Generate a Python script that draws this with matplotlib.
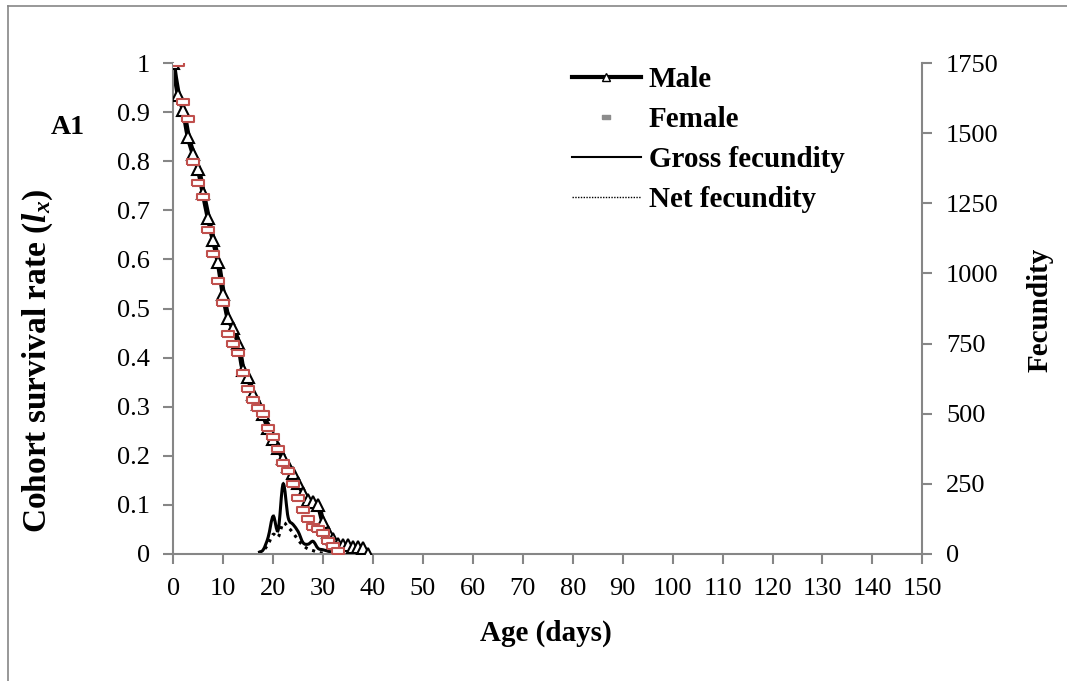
import numpy as np
import matplotlib
matplotlib.use('Agg')
import matplotlib.pyplot as plt
from matplotlib.path import Path
from matplotlib.patches import PathPatch
from matplotlib.lines import Line2D
from matplotlib import rcParams

rcParams['font.family'] = 'Liberation Serif'
rcParams['font.size'] = 19
rcParams['mathtext.fontset'] = 'custom'
rcParams['mathtext.rm'] = 'Liberation Serif'
rcParams['mathtext.it'] = 'Liberation Serif:italic'
rcParams['mathtext.bf'] = 'Liberation Serif:bold'
rcParams['mathtext.bfit'] = 'Liberation Serif:italic:bold'

# survival (lx) by age in days
male_days = list(range(0, 40))
male_lx = [1.0, 0.935, 0.905, 0.85, 0.815, 0.785, 0.735, 0.685, 0.64, 0.595,
           0.53, 0.48, 0.46, 0.43, 0.375, 0.36, 0.325, 0.305, 0.285, 0.256,
           0.235, 0.215, 0.195, 0.18, 0.165, 0.145, 0.125, 0.11, 0.105, 0.1,
           0.065, 0.045, 0.03, 0.02, 0.018, 0.018, 0.015, 0.015, 0.012, 0.0]

female_days = list(range(1, 34))
female_lx = [1.0, 0.921, 0.886, 0.799, 0.755, 0.727, 0.659, 0.612, 0.555, 0.512,
             0.448, 0.428, 0.409, 0.369, 0.337, 0.314, 0.298, 0.285, 0.257, 0.239,
             0.213, 0.186, 0.170, 0.142, 0.114, 0.090, 0.071, 0.054, 0.051, 0.043,
             0.026, 0.017, 0.007]

# fecundity (eggs) by age in days
gross_days = list(range(17, 34))
gross_fec = [5, 15, 60, 135, 85, 250, 130, 105, 80, 40, 35, 45, 20, 15, 10, 5, 0]

net_days = list(range(17, 32))
net_fec = [5, 12, 35, 70, 60, 110, 95, 75, 50, 30, 18, 12, 6, 3, 0]


def smooth_path(x, y):
    # cardinal spline through the points, like a spreadsheet "smoothed line"
    pts = np.column_stack([x, y]).astype(float)
    verts = [pts[0]]
    codes = [Path.MOVETO]
    n = len(pts)
    for i in range(n - 1):
        p0 = pts[max(i - 1, 0)]
        p1 = pts[i]
        p2 = pts[i + 1]
        p3 = pts[min(i + 2, n - 1)]
        verts += [p1 + (p2 - p0) / 6, p2 - (p3 - p1) / 6, p2]
        codes += [Path.CURVE4] * 3
    return Path(verts, codes)


W, H = 1067, 681
grey = '#868686'
red = '#c0504d'
rect = [(-2, -1), (2, -1), (2, 1), (-2, 1), (-2, -1)]

fig = plt.figure(figsize=(W / 100, H / 100), dpi=100)
ax = fig.add_axes([173.3 / W, 1 - 554 / H, 749 / W, 491 / H])
ax2 = ax.twinx()

ax.add_patch(PathPatch(smooth_path(male_days, male_lx), fill=False,
                       edgecolor='black', linewidth=3.8, zorder=2))
ax.plot(male_days, male_lx, linestyle='none', marker='^', markersize=8,
        markerfacecolor='white', markeredgecolor='black', markeredgewidth=1.5,
        zorder=3)
ax.plot(female_days, female_lx, linestyle='none', marker=rect, markersize=8,
        markerfacecolor='white', markeredgecolor=red, markeredgewidth=1.5,
        zorder=4)

ax2.add_patch(PathPatch(smooth_path(gross_days, gross_fec), fill=False,
                        edgecolor='black', linewidth=2.2))
ax2.add_patch(PathPatch(smooth_path(net_days, net_fec), fill=False,
                        edgecolor='black', linewidth=2.2, linestyle=(0, (1, 1.6))))

ax.set_xlim(0, 150)
ax.set_ylim(0, 1)
ax2.set_ylim(0, 1750)
ax.set_xticks(np.arange(0, 151, 10))
ax.set_yticks(np.arange(0, 1.01, 0.1))
ax.set_yticklabels(['%g' % round(v, 1) for v in np.arange(0, 1.01, 0.1)])
ax2.set_yticks(np.arange(0, 1751, 250))

for a in (ax, ax2):
    a.spines['top'].set_visible(False)
    for s in ('left', 'right', 'bottom'):
        a.spines[s].set_color(grey)
        a.spines[s].set_linewidth(1.5)
    a.tick_params(direction='out', length=7, width=1.5, color=grey, pad=10)
ax.spines['right'].set_visible(False)
ax2.spines['left'].set_visible(False)
ax2.spines['bottom'].set_visible(False)
ax.set_zorder(ax2.get_zorder() + 1)
ax.patch.set_visible(False)

# axis titles
fig.text(546 / W, 1 - 633 / H, 'Age (days)', fontweight='bold', fontsize=21,
         ha='center', va='center')
fig.text(38 / W, 1 - 361 / H,
         r'Cohort survival rate ($\mathbfit{l}_{\mathbfit{x}}$)',
         fontweight='bold', fontsize=24, rotation=90, ha='center', va='center')
fig.text(1040 / W, 1 - 310 / H, 'Fecundity', fontweight='bold', fontsize=21,
         rotation=90, ha='center', va='center')
fig.text(68 / W, 1 - 128 / H, 'A1', fontweight='bold', fontsize=20,
         ha='center', va='center')

handles = [
    Line2D([], [], color='black', linewidth=3, marker='^', markersize=6,
           markerfacecolor='white', markeredgecolor='black'),
    Line2D([], [], linestyle='none', marker=rect, markersize=6,
           color='#8c8c8c'),
    Line2D([], [], color='black', linewidth=1.5),
    Line2D([], [], color='black', linewidth=1, linestyle=(0, (1, 1))),
]
labels = ['Male', 'Female', 'Gross fecundity', 'Net fecundity']
leg = ax.legend(handles, labels, loc='upper left',
                bbox_to_anchor=(572 / W, 1 - 66 / H),
                bbox_transform=fig.transFigure, frameon=False,
                borderpad=0, borderaxespad=0, handlelength=2.35,
                handletextpad=0.28, labelspacing=0.45,
                prop={'weight': 'bold', 'size': 21})

# chart border
fig.add_artist(Line2D([8 / W, 8 / W], [0, 1 - 6 / H],
                      color=grey, linewidth=1.2))
fig.add_artist(Line2D([8 / W, 1], [1 - 6 / H, 1 - 6 / H],
                      color=grey, linewidth=1.2))

fig.savefig('out.png', dpi=100)
